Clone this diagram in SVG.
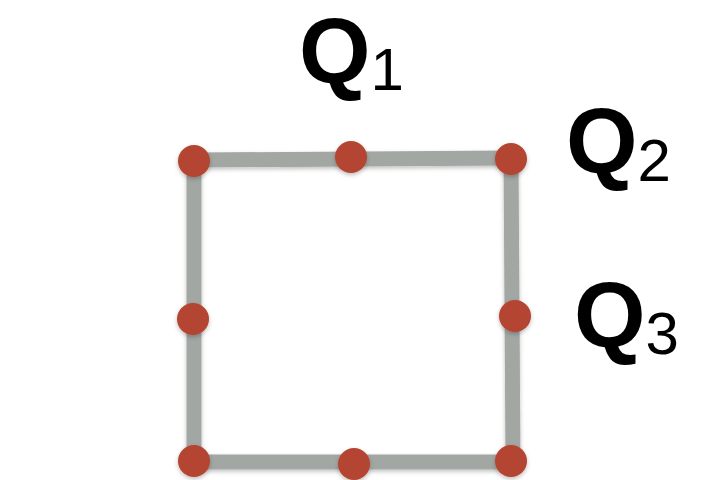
<svg xmlns="http://www.w3.org/2000/svg" width="709" height="480" viewBox="0 0 709 480">
<defs>
<filter id="sh" x="-20%" y="-20%" width="140%" height="140%">
<feDropShadow dx="0" dy="2" stdDeviation="2" flood-color="#000" flood-opacity="0.25"/>
</filter>
<style>
.edge{stroke:#a2a7a4;stroke-width:15;fill:none;stroke-linecap:butt}
.dot{fill:#b44530}
.q{font-family:"Liberation Sans",Arial,sans-serif;font-weight:bold;font-size:92px;fill:#000}
.s{font-family:"Liberation Sans",Arial,sans-serif;font-size:60px;fill:#000}
</style>
</defs>
<rect width="709" height="480" fill="#fff"/>
<g id="connectors" filter="url(#sh)">
<path class="edge" d="M194 160 L511 158"/>
<path class="edge" d="M511 158 L513 462"/>
<path class="edge" d="M513 462 L194 462"/>
<path class="edge" d="M194 462 L194 160"/>
</g>
<g id="n1" filter="url(#sh)"><circle class="dot" cx="194" cy="161" r="16"/></g>
<g id="n2" filter="url(#sh)"><circle class="dot" cx="351" cy="157" r="16"/></g>
<g id="n3" filter="url(#sh)"><circle class="dot" cx="511" cy="159" r="16"/></g>
<g id="n4" filter="url(#sh)"><circle class="dot" cx="193" cy="319" r="16"/></g>
<g id="n5" filter="url(#sh)"><circle class="dot" cx="515" cy="316" r="16"/></g>
<g id="n6" filter="url(#sh)"><circle class="dot" cx="194" cy="461" r="16"/></g>
<g id="n7" filter="url(#sh)"><circle class="dot" cx="354" cy="464" r="16"/></g>
<g id="n8" filter="url(#sh)"><circle class="dot" cx="511" cy="461" r="16"/></g>
<g id="labels">
<text x="299" y="83"><tspan class="q">Q</tspan><tspan class="s" dy="7">1</tspan></text>
<text x="566" y="173"><tspan class="q">Q</tspan><tspan class="s" dy="8">2</tspan></text>
<text x="574" y="347"><tspan class="q">Q</tspan><tspan class="s" dy="7">3</tspan></text>
</g>
</svg>
